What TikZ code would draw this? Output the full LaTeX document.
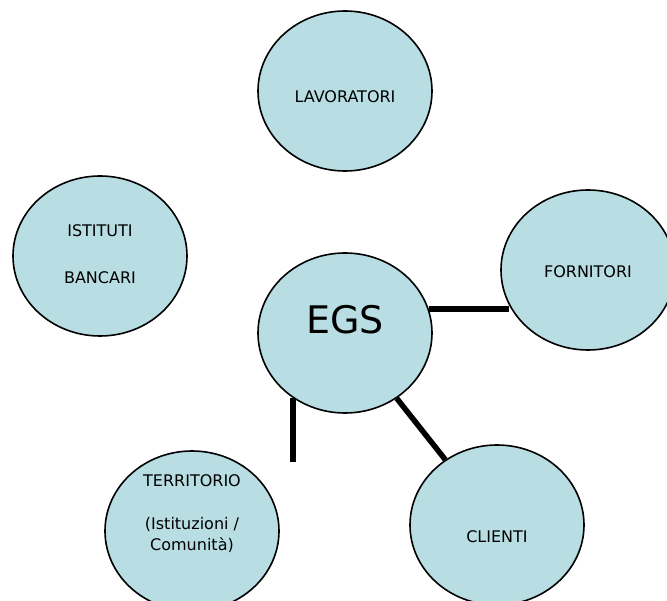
\documentclass[tikz,border=0pt]{standalone}
\usepackage{fontspec}
\setmainfont{DejaVu Sans}
\usetikzlibrary{shapes.geometric}
\definecolor{blobblue}{RGB}{184,222,227}
\tikzset{
  blob/.style={
    ellipse, 
    draw=black, 
    line width=1.6pt,
    fill=blobblue,
    minimum width=174pt,
    minimum height=160pt,
    inner sep=0pt
  },
  link/.style={
    line width=5.5pt,
    black
  },
  every label/.style={
    font=\fontsize{16}{21}\selectfont, 
    align=center
  }
}
\begin{document}
\begin{tikzpicture}[x=1pt,y=-1pt]
\useasboundingbox (0,0) rectangle (667,601);
\node[blob, label={[yshift=-6pt]center:LAVORATORI}] (lav) at (345,91) {};
\node[blob, label={[yshift=2pt]center:ISTITUTI\\[26pt]BANCARI}] (ist) at (100,256) {};
\node[blob, label={[yshift=-2pt]center:FORNITORI}] (forn) at (588,270) {};
\node[blob, label={[yshift=13pt, font=\fontsize{38}{40}\selectfont]center:EGS}] (egs) at (345,333) {};
\node[blob, label={[yshift=17pt]center:TERRITORIO\\[22pt](Istituzioni /\\Comunità)}] (terr) at (192,531) {};
\node[blob, label={[yshift=-12pt]center:CLIENTI}] (cli) at (497,525) {};
% free end of the left connector
\coordinate (tend) at (293,462);
\draw[link] (egs.16) -- ([xshift=9pt]egs.16 -| forn.west);
\draw[link] (egs.231 -| tend) -- (tend);
\draw[link] (egs) -- (cli);
\end{tikzpicture}
\end{document}
